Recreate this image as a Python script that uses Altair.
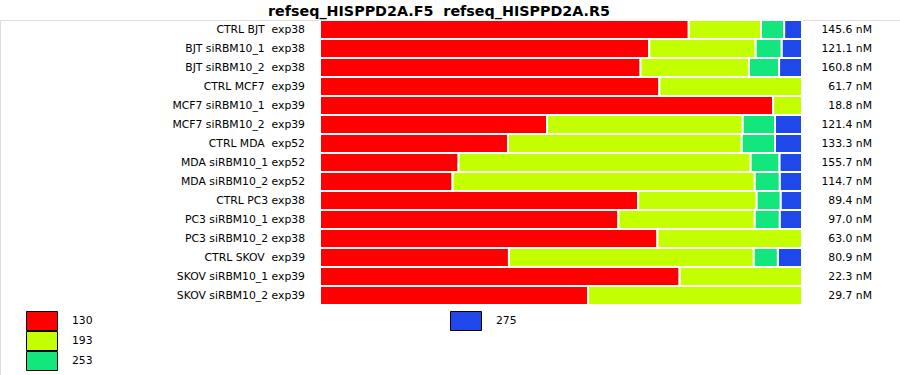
import altair as alt
import pandas as pd

NB = "\u00a0"

samples = [
    "CTRL BJT  exp38",
    "BJT siRBM10_1  exp38",
    "BJT siRBM10_2  exp38",
    "CTRL MCF7  exp39",
    "MCF7 siRBM10_1  exp39",
    "MCF7 siRBM10_2  exp39",
    "CTRL MDA  exp52",
    "MDA siRBM10_1 exp52",
    "MDA siRBM10_2 exp52",
    "CTRL PC3 exp38",
    "PC3 siRBM10_1 exp38",
    "PC3 siRBM10_2 exp38",
    "CTRL SKOV  exp39",
    "SKOV siRBM10_1 exp39",
    "SKOV siRBM10_2 exp39",
]
concentrations = [
    "145.6 nM", "121.1 nM", "160.8 nM", "61.7 nM", "18.8 nM",
    "121.4 nM", "133.3 nM", "155.7 nM", "114.7 nM", "89.4 nM",
    "97.0 nM", "63.0 nM", "80.9 nM", "22.3 nM", "29.7 nM",
]
categories = ["130", "193", "253", "275"]
colors = ["#FF0000", "#C4FF00", "#12E67C", "#1E48EA"]

# fractions per category (130, 193, 253, 275)
frac_130 = [0.765, 0.683, 0.665, 0.704, 0.940, 0.471, 0.390, 0.2875, 0.275, 0.660, 0.619, 0.700, 0.392, 0.746, 0.556]
frac_193 = [0.150, 0.221, 0.225, 0.296, 0.060, 0.406, 0.485, 0.606, 0.627, 0.246, 0.283, 0.300, 0.508, 0.254, 0.444]
frac_253 = [0.048, 0.054, 0.0625, 0.0, 0.0, 0.067, 0.069, 0.060, 0.052, 0.050, 0.052, 0.0, 0.050, 0.0, 0.0]
frac_275 = [0.037, 0.042, 0.0475, 0.0, 0.0, 0.056, 0.056, 0.0465, 0.046, 0.044, 0.046, 0.0, 0.050, 0.0, 0.0]

labels_nb = [s.replace(" ", NB) for s in samples]

rows = []
for i, s in enumerate(labels_nb):
    start = 0.0
    for k, (cat, fr) in enumerate(zip(categories, [frac_130, frac_193, frac_253, frac_275])):
        if fr[i] > 0:
            rows.append({"sample": s, "cat": cat, "x0": start, "x1": start + fr[i]})
            start += fr[i]
bar_df = pd.DataFrame(rows)
label_df = pd.DataFrame({"sample": labels_nb, "conc": [c.replace(" ", NB) for c in concentrations]})
legend_df = pd.DataFrame({
    "cat": categories,
    "col": [i // 3 for i in range(len(categories))],
    "row": [i % 3 for i in range(len(categories))],
})

FONT = "DejaVu Sans"
xscale = alt.Scale(domain=[0, 1], range=[320, 802], nice=False, zero=False)
yscale = alt.Scale(domain=labels_nb, range=[0, 285], paddingInner=0, paddingOuter=0)
cscale = alt.Scale(domain=categories, range=colors)

bars = alt.Chart(bar_df).mark_rect(stroke="white", strokeWidth=2).encode(
    y=alt.Y("sample:N", scale=yscale, axis=None, sort=labels_nb),
    x=alt.X("x0:Q", scale=xscale, axis=None),
    x2="x1:Q",
    color=alt.Color("cat:N", scale=cscale, legend=None),
)

left_text = alt.Chart(label_df).mark_text(
    align="right", baseline="middle", dx=-15, font=FONT, fontSize=10.8, color="black"
).encode(
    y=alt.Y("sample:N", scale=yscale, axis=None, sort=labels_nb),
    x=alt.datum(0),
    text="sample:N",
)

right_text = alt.Chart(label_df).mark_text(
    align="right", baseline="middle", dx=70, font=FONT, fontSize=10.8, color="black"
).encode(
    y=alt.Y("sample:N", scale=yscale, axis=None, sort=labels_nb),
    x=alt.datum(1),
    text="conc:N",
)

main = alt.layer(bars, left_text, right_text)

lx = alt.Scale(domain=[0, 1], range=[42, 466], nice=False, zero=False)
ly = alt.Scale(domain=[0, 2], range=[301, 341], nice=False, zero=False)

leg_rect = alt.Chart(legend_df).mark_rect(
    width=31, height=19, stroke="black", strokeWidth=1
).encode(
    x=alt.X("col:Q", scale=lx, axis=None),
    y=alt.Y("row:Q", scale=ly, axis=None),
    color=alt.Color("cat:N", scale=cscale, legend=None),
)
leg_text = alt.Chart(legend_df).mark_text(
    align="left", baseline="middle", dx=30, font=FONT, fontSize=10.8, color="black"
).encode(
    x=alt.X("col:Q", scale=lx, axis=None),
    y=alt.Y("row:Q", scale=ly, axis=None),
    text="cat:N",
)
legend = alt.layer(leg_rect, leg_text)

chart = alt.layer(main, legend).resolve_scale(
    x="independent", y="independent"
).properties(
    width=900,
    height=355,
    padding={"left": 0, "top": 20, "right": 0, "bottom": 0},
    autosize=alt.AutoSizeParams(type="none"),
    title=alt.TitleParams(
        text="refseq_HISPPD2A.F5" + NB + NB + "refseq_HISPPD2A.R5",
        font=FONT, fontSize=14.3, fontWeight="bold", color="black",
        anchor="middle", frame="group", dx=-11, offset=0,
    ),
).configure_view(stroke=None).configure(background="white")

chart.save("out.html", embed_options={"renderer": "svg", "actions": False})
